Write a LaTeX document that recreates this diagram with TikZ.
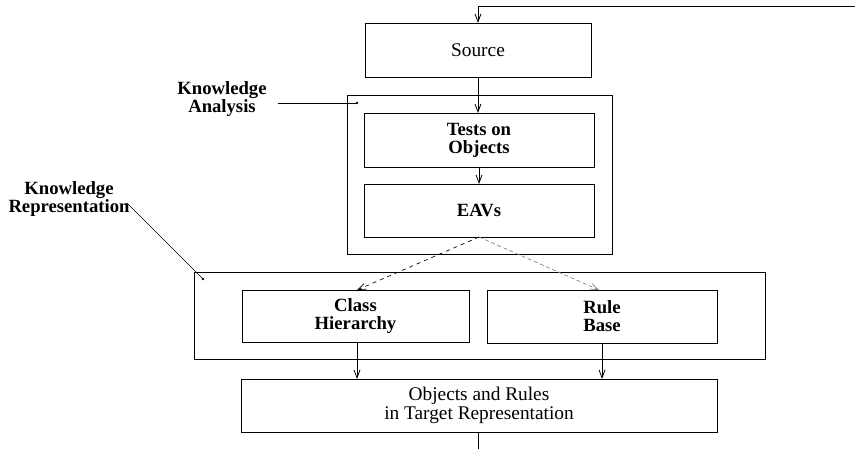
\documentclass[tikz,border=0pt]{standalone}
\usepackage{fontspec}
\setmainfont{Liberation Serif}
\usetikzlibrary{arrows.meta}
\begin{document}
\begin{tikzpicture}[x=0.75pt,y=-0.75pt,
  every node/.style={inner sep=0pt, outer sep=0pt},
  box/.style={draw, line width=0.6pt, rectangle, align=center},
  txt/.style={font=\fontsize{14.5}{14}\selectfont},
  bold/.style={font=\fontsize{14}{13.5}\selectfont\bfseries},
  arr/.style={line width=0.6pt, -{Straight Barb[length=6pt,width=4.5pt]}},
  darr/.style={line width=0.5pt, dashed, -{Straight Barb[length=6pt,width=4.5pt]}},
  lead/.style={line width=0.5pt},
  dot/.style={circle, fill, minimum size=2.2pt}]
\useasboundingbox (0,0) rectangle (860,449);

% outer grouping frames
\node[box, minimum width=198.75pt, minimum height=119.25pt] (ka) at (479.5,174.5) {};
\node[box, minimum width=428.25pt, minimum height=65.25pt] (kr) at (479.5,315.5) {};

% process boxes
\node[box, txt, minimum width=169.5pt, minimum height=40.5pt] (src) at (478,50) {Source};
\node[box, bold, minimum width=172.5pt, minimum height=40.5pt] (tests) at (479,140) {Tests on\\Objects};
\node[box, bold, minimum width=172.5pt, minimum height=39.75pt] (eav) at (479,210.5) {EAVs};
\node[box, bold, minimum width=170.25pt, minimum height=39pt] (cls) at (355.5,316) {Class\\Hierarchy};
\node[box, bold, minimum width=172.5pt, minimum height=39.75pt] (rule) at (602,316.5) {Rule\\Base};
\node[box, txt, minimum width=357pt, minimum height=39.75pt] (obj) at (479,405.5) {Objects and Rules\\in Target Representation};

% side labels
\node[bold, align=center] (kalab) at (222,99) {Knowledge\\Analysis};
\node[bold, align=center] (krlab) at (69,199) {Knowledge\\Representation};
\coordinate (kastart) at (278,103);
\node[dot] (kadot) at (357,103) {};
\coordinate (krstart) at (127,203);
\node[dot] (krdot) at (203,279) {};
\draw[lead] (kastart) -- (kadot.center);
\draw[lead] (krstart) -- (krdot.center);

% feedback into the source
\coordinate (fb) at (855,6);
\draw[arr] (fb) -- (fb -| src.north) -- (src.north);

% main flow
\draw[arr] (src.south) -- (src.south |- tests.north);
\draw[arr] (tests.south) -- (tests.south |- eav.north);
\draw[darr] (eav.south) -- (357,290);
\draw[darr, densely dashed, gray] (eav.south) -- (599,290);
\draw[arr] (357,342) -- (357,379);
\draw[arr] (602,343) -- (602,379);
\coordinate (out) at (478,449);
\draw[line width=0.6pt] (obj.south -| out) -- (out);
\end{tikzpicture}
\end{document}
